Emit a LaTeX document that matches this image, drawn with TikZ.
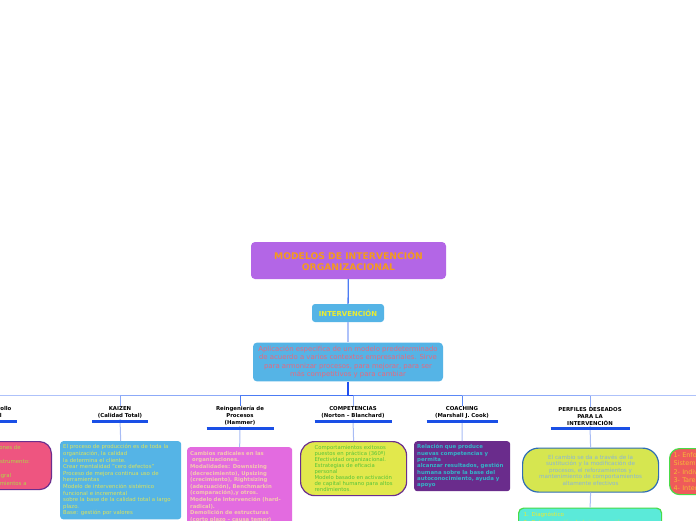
\documentclass[tikz,border=0pt]{standalone}
\usepackage{fontspec}
\setmainfont{DejaVu Sans}
\usetikzlibrary{calc}
\definecolor{rootc}{HTML}{B366E6}
\definecolor{orangec}{HTML}{F39A1E}
\definecolor{skyc}{HTML}{55B4E6}
\definecolor{yelc}{HTML}{ECEC30}
\definecolor{desctxt}{HTML}{E8687E}
\definecolor{kztxt}{HTML}{DDE35A}
\definecolor{magc}{HTML}{E36BE0}
\definecolor{retxt}{HTML}{F4C8B0}
\definecolor{limec}{HTML}{E2E84C}
\definecolor{purpc}{HTML}{6B2E8E}
\definecolor{cotxt}{HTML}{55C43A}
\definecolor{chfill}{HTML}{6A2C8C}
\definecolor{chtxt}{HTML}{34B4C8}
\definecolor{pffill}{HTML}{D6E650}
\definecolor{pfborder}{HTML}{2F6DB5}
\definecolor{pftxt}{HTML}{88B4DA}
\definecolor{turq}{HTML}{5BEAD9}
\definecolor{greenb}{HTML}{48DC48}
\definecolor{redc}{HTML}{EF5A5A}
\definecolor{redtxt}{HTML}{F5B838}
\definecolor{pinkc}{HTML}{EE5580}
\definecolor{dotxt}{HTML}{B0D848}
\definecolor{ulc}{HTML}{1A4FE6}
\definecolor{b0}{HTML}{2050F0}
\definecolor{b1}{HTML}{4C7CF4}
\definecolor{b2}{HTML}{5A88F6}
\definecolor{b3}{HTML}{8CAAF8}
\definecolor{b4}{HTML}{AEC2FA}
\definecolor{connc}{HTML}{A8BCF5}
\tikzset{
  lbl/.style={font=\bfseries\fontsize{5.4}{7}\selectfont, align=center, inner sep=0.5pt, text=black},
  uline/.style={draw=ulc, line width=2.6pt},
  conn/.style={draw=connc, line width=1pt},
  boxtxt/.style={font=\fontsize{5.4}{6.6}\selectfont, align=left},
  branch/.style={line width=1.8pt},
  tick/.style={line width=1pt}
}
\begin{document}
\begin{tikzpicture}[x=1pt,y=-1pt]
\useasboundingbox (0,0) rectangle (696,520);
\clip (0,0) rectangle (696,520);
\fill[white] (0,0) rectangle (696,520);

% top nodes
\node[fill=rootc, rounded corners=4pt, minimum width=195pt, minimum height=37pt, text=orangec,
  font=\bfseries\fontsize{9.2}{11}\selectfont, align=center] (root) at (348.5,260.5)
  {MODELOS DE INTERVENCIÓN\\ORGANIZACIONAL};
\node[fill=skyc, rounded corners=3pt, minimum width=72pt, minimum height=18pt, text=yelc,
  font=\bfseries\fontsize{6.9}{7}\selectfont] (int) at (348,313) {INTERVENCIÓN};
\node[fill=skyc, rounded corners=4pt, minimum width=190pt, minimum height=38pt, text=desctxt,
  font=\fontsize{6.9}{8.4}\selectfont, align=center, inner xsep=1pt] (desc) at (348,362)
  {Aplicación especifica de un modelo predeterminado\\de acuerdo a varios contextos empresariales. Sirve\\para armonizar procesos, para mejorar, para ser\\más competitivos y para cambiar};
\coordinate (hub) at (348,395.5);

\draw[draw=b1, line width=1.3pt] (root) -- (int);
\draw[draw=b4, line width=1.3pt] (int) -- (desc);

% labels
\node[lbl, anchor=south] (do) at (-21,419) {Modelo de Desarrollo\\Organizacional};
\node[lbl, anchor=south] (kz) at (120,419) {KAIZEN\\(Calidad Total)};
\node[lbl, anchor=south] (re) at (240,426) {Reingeniería de\\Procesos\\(Hammer)};
\node[lbl, anchor=south] (co) at (353,419) {COMPETENCIAS\\(Norton – Blanchard)};
\node[lbl, anchor=south] (ch) at (462,419) {COACHING\\(Marshall J. Cook)};
\node[lbl, anchor=south] (pf) at (590,426) {PERFILES DESEADOS\\PARA LA\\INTERVENCIÓN};
\coordinate (rt) at (740,402);

% branches (far first)
\draw[branch, draw=b4] (hub) -- (hub -| rt);
\draw[branch, draw=b4] (hub) -- (hub -| do.north);
\draw[tick, draw=b4] (hub -| do.north) -- (do.north);
\draw[branch, draw=b3] (hub) -- (hub -| pf.north);
\draw[tick, draw=b3] (hub -| pf.north) -- (pf.north);
\draw[branch, draw=b3] (hub) -- (hub -| kz.north);
\draw[tick, draw=b3] (hub -| kz.north) -- (kz.north);
\draw[branch, draw=b2] (hub) -- (hub -| ch.north);
\draw[tick, draw=b2] (hub -| ch.north) -- (ch.north);
\draw[branch, draw=b1] (hub) -- (hub -| re.north);
\draw[tick, draw=b1] (hub -| re.north) -- (re.north);
\draw[branch, draw=b0] (hub) -- (hub -| co.north);
\draw[tick, draw=b3] (hub -| co.north) -- (co.north);
\draw[draw=b0, line width=2.6pt] (desc.south) -- (hub);

% boxes
\node[boxtxt, anchor=north east, fill=pinkc, draw=purpc, line width=1.2pt, rounded corners=12pt,
  minimum width=95pt, minimum height=48pt, text width=85pt, inner xsep=5pt, text=dotxt,
  font=\fontsize{5.4}{7.2}\selectfont] (dob) at (52,441)
  {Las intervenciones de\\planificación y\\evaluación. Instrumento:\\\mbox{}\\con visión integral\\de los planteamientos a};
\node[boxtxt, anchor=north west, fill=skyc, rounded corners=3pt, minimum width=121pt, minimum height=75pt,
  text width=115pt, inner xsep=3pt, text=kztxt] (kzb) at (60,441)
  {El proceso de producción es de toda la\\organización, la calidad\\la determina el cliente.\\Crear mentalidad "cero defectos"\\Proceso de mejora continua uso de\\herramientas\\Modelo de intervención sistémico\\funcional e incremental\\sobre la base de la calidad total a largo\\plazo.\\Base: gestión por valores};
\node[boxtxt, anchor=north west, fill=magc, rounded corners=3pt, minimum width=105pt,
  text width=99pt, inner xsep=3pt, inner ysep=4pt, text=retxt, font=\bfseries\fontsize{5.3}{6.6}\selectfont] (reb) at (187,447)
  {Cambios radicales en las\\\hspace*{2pt}organizaciones.\\Modalidades: Downsizing\\(decrecimiento), Upsizing\\(crecimiento), Rightsizing\\(adecuación), Benchmarkin\\(comparación),y otros.\\Modelo de Intervención (hard-\\radical).\\Demolición de estructuras\\(corto plazo – causa temor)\\\mbox{}};
\node[boxtxt, anchor=north west, fill=limec, draw=purpc, line width=1.2pt, rounded corners=14pt,
  minimum width=106pt, minimum height=54pt, text width=86pt, inner xsep=10pt, text=cotxt,
  font=\fontsize{5.3}{6}\selectfont] (cob) at (300,441)
  {\hspace*{4pt}Comportamientos exitosos\\\hspace*{4pt}puestos en práctica (360º)\\\hspace*{4pt}Efectividad organizacional.\\\hspace*{4pt}Estrategias de eficacia\\\hspace*{4pt}personal\\\hspace*{4pt}Modelo basado en activación\\\hspace*{4pt}de capital humano para altos\\\hspace*{4pt}rendimientos.};
\node[boxtxt, anchor=north west, fill=chfill, rounded corners=3pt, minimum width=96pt, minimum height=50pt,
  text width=90pt, inner xsep=3pt, text=chtxt, font=\bfseries\fontsize{5.4}{6.3}\selectfont] (chb) at (414,441)
  {Relación que produce\\nuevas competencias y\\permita\\alcanzar resultados, gestión\\humana sobre la base del\\autoconocimiento, ayuda y\\apoyo};
\node[anchor=north west, fill=pffill, draw=pfborder, line width=1.2pt, rounded corners=16pt,
  minimum width=136pt, minimum height=44pt, text width=122pt, inner xsep=7pt, align=center, text=pftxt,
  font=\fontsize{5.6}{6.5}\selectfont] (pfb) at (522,447.5)
  {El cambio se da a través de la\\sustitución y la modificación de\\procesos, el reforzamientos y\\mantenimiento de comportamientos\\altamente efectivos};
\node[anchor=north west, fill=turq, draw=greenb, line width=1.2pt, rounded corners=5pt,
  minimum width=143pt, text width=133pt, inner xsep=5pt, inner ysep=4pt, align=left, text=yelc,
  font=\fontsize{5.5}{7.5}\selectfont] (dgb) at (518,507.5)
  {1. Diagnóstico\\2. Determinación de la intervención\\\mbox{}};
\node[anchor=north west, fill=redc, draw=greenb, line width=1.2pt, rounded corners=10pt,
  minimum width=70pt, minimum height=46pt, text width=62pt, inner xsep=3pt, align=left, text=redtxt,
  font=\fontsize{6.5}{8.3}\selectfont] (rdb) at (669,448)
  {1- Enfoque de\\Sistemas\\2- Individuos\\3- Tareas\\4- Interacción};

% connectors label -> box
\draw[conn] (kz.south) -- (kzb.north);
\draw[conn] (re.south) -- (reb.north);
\draw[conn] (co.south) -- (cob.north);
\draw[conn] (ch.south) -- (chb.north);
\draw[conn] (pf.south) -- (pfb.north);
\draw[conn] (pfb.south) -- (dgb.north);

% underlines
\draw[uline] ($(do.south)+(-38,2.5)$) -- ++(76,0);
\draw[uline] ($(kz.south)+(-28,2.5)$) -- ++(56,0);
\draw[uline] ($(re.south)+(-33.5,2.5)$) -- ++(67,0);
\draw[uline] ($(co.south)+(-38.5,2.5)$) -- ++(77,0);
\draw[uline] ($(ch.south)+(-35.5,2.5)$) -- ++(71,0);
\draw[uline] ($(pf.south)+(-39.5,2.5)$) -- ++(79,0);
\end{tikzpicture}
\end{document}
